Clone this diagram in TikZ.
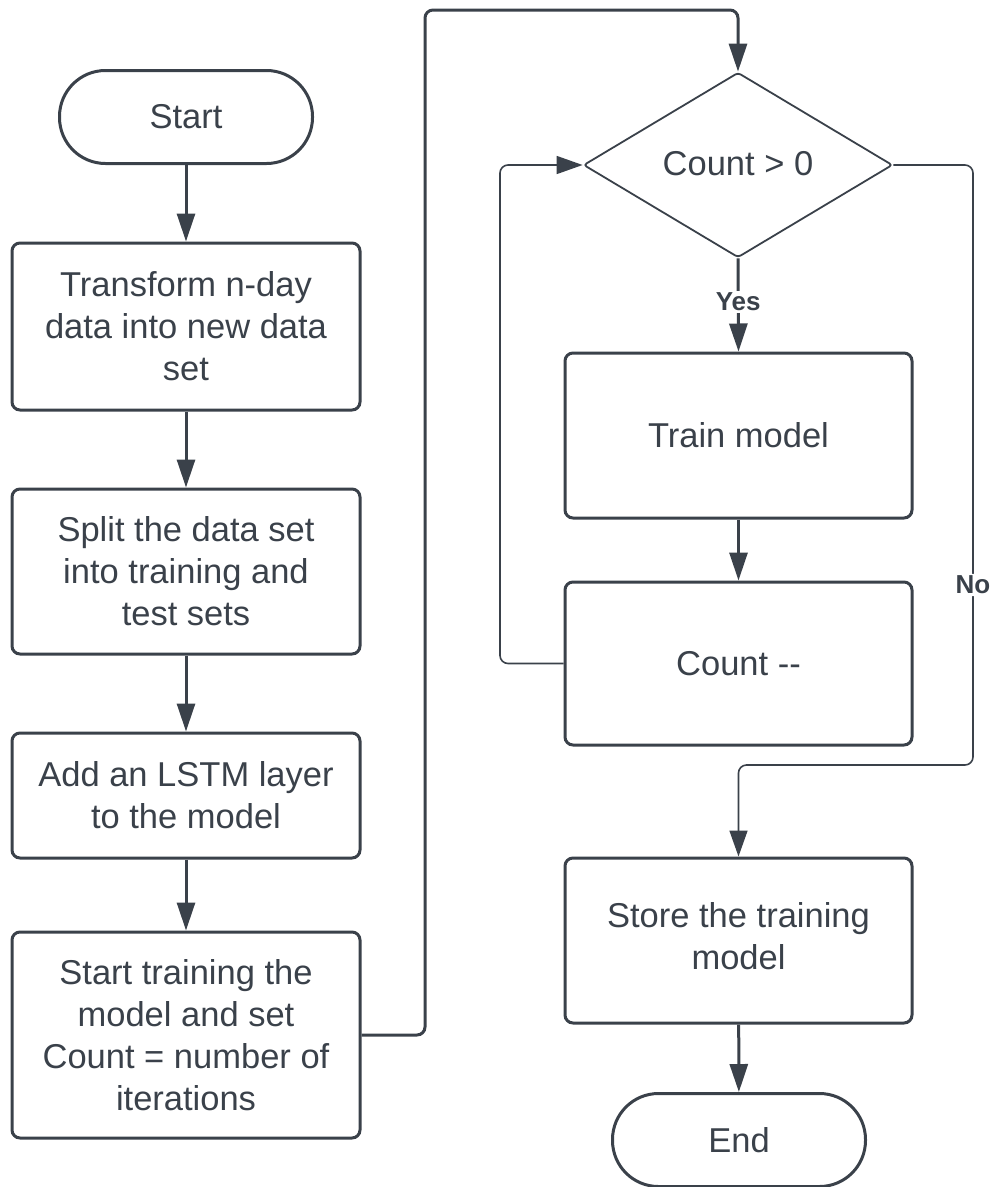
\documentclass[tikz,border=0pt]{standalone}
\usepackage{fontspec}
\setmainfont{Liberation Sans}
\usetikzlibrary{arrows.meta,shapes.geometric}
\definecolor{ink}{RGB}{58,65,74}
\begin{document}
\begin{tikzpicture}[x=1pt,y=-1pt,
  every node/.style={text=ink,font=\fontsize{34.5}{42}\selectfont},
  process/.style={draw=ink,line width=3pt,rounded corners=8pt,rectangle,
    minimum width=348pt,inner sep=0pt,align=center},
  terminal/.style={draw=ink,line width=3pt,rectangle,rounded corners=46pt,
    minimum width=253pt,minimum height=93pt,inner sep=0pt},
  decision/.style={draw=ink,line width=1.8pt,diamond,aspect=1.67,
    minimum width=309pt,minimum height=185pt,inner sep=0pt,rounded corners=3pt},
  flow/.style={draw=ink,line width=3pt,-{Triangle[length=28pt,width=18pt]}},
  thinflow/.style={draw=ink,line width=1.6pt,rounded corners=8pt,-{Triangle[length=26pt,width=18pt]}},
  branch/.style={fill=white,inner sep=2pt,font=\fontsize{26}{30}\selectfont\bfseries}
]
\useasboundingbox (0,0) rectangle (997,1187);

% left column
\node[terminal] (start) at (186,117) {Start};
\node[process,minimum height=167pt] (trans) at (186,326.5)
  {Transform n-day\\data into new data\\set};
\node[process,minimum height=165pt] (split) at (186,571.5)
  {Split the data set\\into training and\\test sets};
\node[process,minimum height=125pt] (lstm) at (186,795.5)
  {Add an LSTM layer\\to the model};
\node[process,minimum height=206pt] (train0) at (186,1035)
  {Start training the\\model and set\\Count = number of\\iterations};

% right column
\node[decision] (dec) at (738,165) {\raisebox{4pt}{Count > 0}};
\node[process,minimum height=165pt,minimum width=347pt] (trainm) at (738.5,435.5) {Train model};
\node[process,minimum height=163pt,minimum width=347pt] (cnt) at (738.5,663.5) {Count {-}{-}};
\node[process,minimum height=165pt,minimum width=347pt] (store) at (738.5,940.5)
  {\raisebox{4pt}{\begin{tabular}{@{}c@{}}Store the training\\model\end{tabular}}};
\node[terminal] (stop) at (739,1140) {End};

% bend points of the long connectors
\coordinate (upleft) at (425,10);
\coordinate (loopx) at (500,0);
\coordinate (nocorner) at (973,765);

% main sequence
\draw[flow] (start) -- (trans);
\draw[flow] (trans) -- (split);
\draw[flow] (split) -- (lstm);
\draw[flow] (lstm) -- (train0);
\draw[flow,rounded corners=8pt] (train0.east) -| (upleft) -| (dec.north);
\draw[flow] (dec.south) -- node[branch,pos=0.47]{Yes} (trainm.north);
\draw[flow] (trainm) -- (cnt);
\draw[flow] (store) -- (stop);

% loop back and exit
\draw[thinflow] (cnt.west) -| (loopx |- dec.west) -- (dec.west);
\draw[thinflow] (dec.east) -| node[branch,pos=0.85]{No} (nocorner) -| (store.north);
\end{tikzpicture}
\end{document}
